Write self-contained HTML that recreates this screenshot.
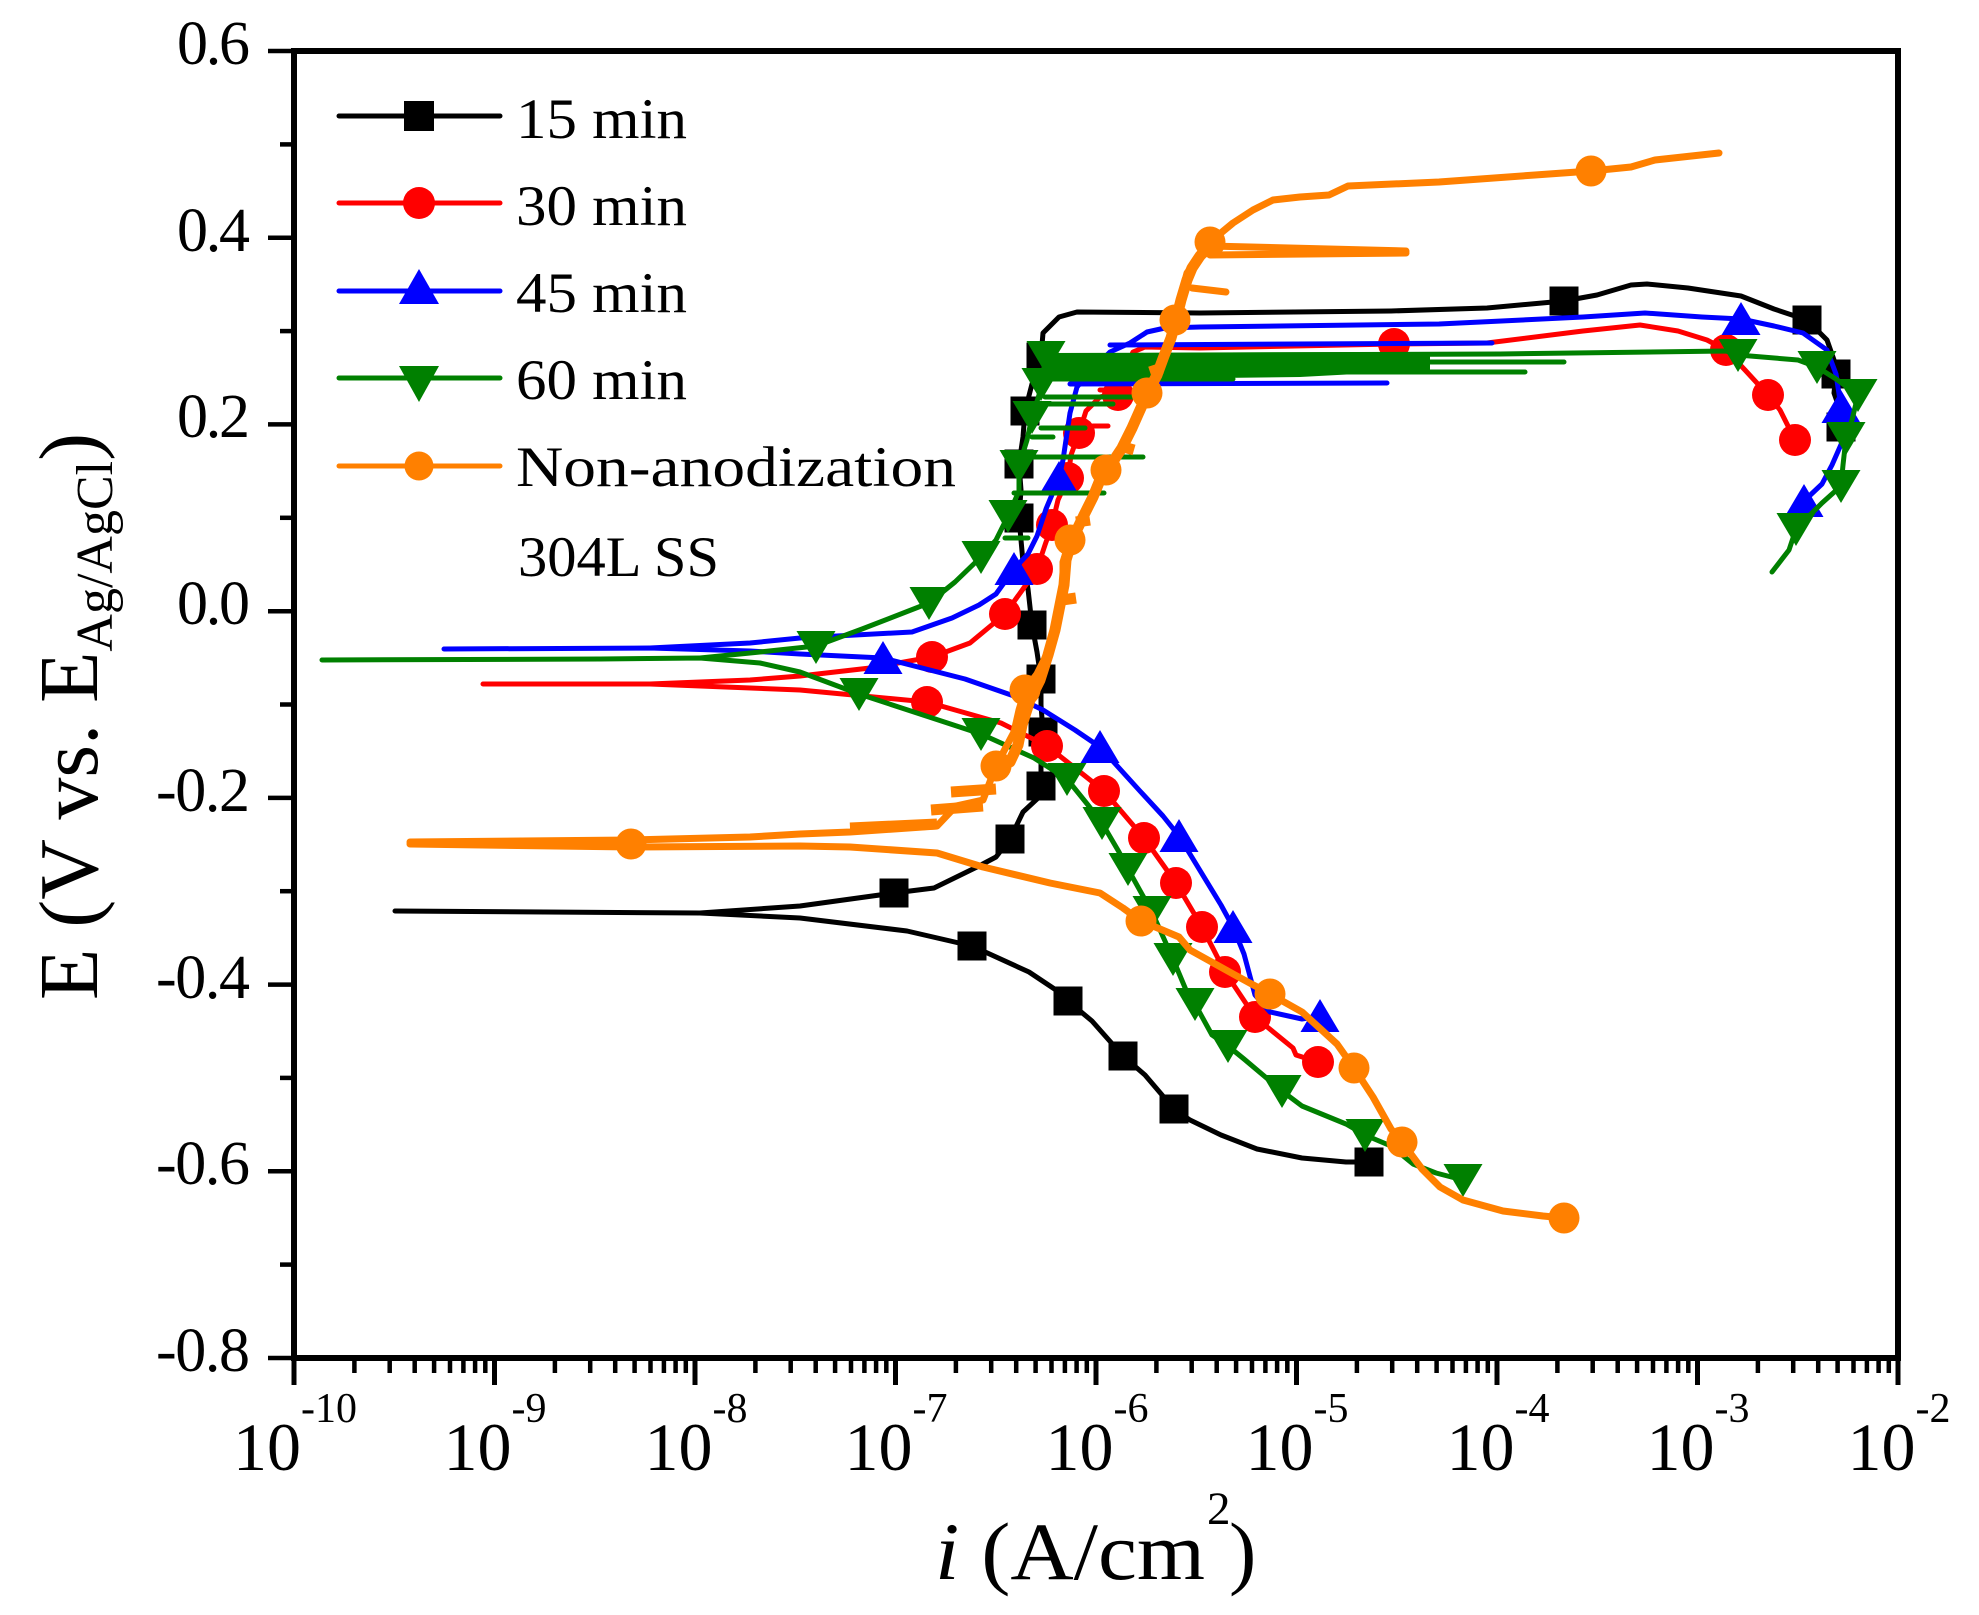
<!DOCTYPE html>
<html><head><meta charset="utf-8"><style>
html,body{margin:0;padding:0;background:#fff;}
svg{display:block;}
text{font-family:"Liberation Serif",serif;fill:#000;}
</style></head><body>
<svg width="1979" height="1615" viewBox="0 0 1979 1615" xmlns="http://www.w3.org/2000/svg">
<rect x="0" y="0" width="1979" height="1615" fill="#fff"/>

<!-- ===== DATA ===== -->
<g fill="none" stroke-width="5" stroke-linejoin="round" stroke-linecap="round">
<g stroke="#000">
<polyline points="395,911 700,913 800,918 907,931 972,946 1029,972 1056,990 1068,1001 1092,1021 1123,1056 1145,1075 1174,1109 1190,1120 1221,1135 1257,1149 1302,1158 1346,1162 1369,1162"/>
<polyline points="700,913 800,906 894,893 934,888 979,866 996,857 1010,839 1023,812 1037,799 1041,786 1041,741 1043,732 1041,705 1041,679 1037,652 1032,625 1028,589 1023,562 1019,518 1021,490 1019,464 1023,437 1025,411 1032,384 1041,357 1043,333 1059,317 1077,312 1200,313 1391,311 1487,308 1564,301 1597,295 1631,285 1647,284 1688,288 1741,296 1774,309 1807,320 1827,340 1834,360 1836,374 1834,393 1840,410 1841,427 1843,445"/>
</g>
</g>
<g fill="#000">
<rect x="1354.5" y="1147.5" width="29" height="29"/><rect x="1159.5" y="1094.5" width="29" height="29"/><rect x="1108.5" y="1041.5" width="29" height="29"/><rect x="1053.5" y="986.5" width="29" height="29"/><rect x="957.5" y="931.5" width="29" height="29"/><rect x="879.5" y="878.5" width="29" height="29"/><rect x="995.5" y="824.5" width="29" height="29"/><rect x="1026.5" y="771.5" width="29" height="29"/><rect x="1028.5" y="717.5" width="29" height="29"/><rect x="1026.5" y="664.5" width="29" height="29"/><rect x="1017.5" y="610.5" width="29" height="29"/><rect x="1004.5" y="503.5" width="29" height="29"/><rect x="1004.5" y="449.5" width="29" height="29"/><rect x="1010.5" y="396.5" width="29" height="29"/><rect x="1026.5" y="342.5" width="29" height="29"/><rect x="1549.5" y="286.5" width="29" height="29"/><rect x="1792.5" y="305.5" width="29" height="29"/><rect x="1821.5" y="359.5" width="29" height="29"/><rect x="1826.5" y="412.5" width="29" height="29"/>
</g>

<!-- red 30 min -->
<g fill="none" stroke="#f00" stroke-width="5" stroke-linejoin="round" stroke-linecap="round">
<polyline points="483,684 650,684 800,690 927,702 1001,723 1047,746 1075,768 1104,791 1144,838 1176,883 1202,927 1225,972 1255,1017 1293,1048 1296,1055 1318,1062"/>
<polyline points="650,684 750,680 800,676 870,668 932,657 970,643 1005,614 1023,589 1037,569 1045,545 1052,525 1058,500 1068,478 1071,455 1079,433 1086,411 1100,397 1118,393 1125,370 1133,352 1145,347 1200,348 1394,344 1487,343 1583,331 1640,325 1678,331 1707,340 1726,350 1745,370 1768,395 1780,410 1795,440"/>
<line x1="1093" y1="426" x2="1108" y2="426"/>
<line x1="1100" y1="390" x2="1128" y2="390"/>
</g>
<g fill="#f00">
<circle cx="927" cy="702" r="16"/><circle cx="1047" cy="746" r="16"/><circle cx="1104" cy="791" r="16"/><circle cx="1144" cy="838" r="16"/><circle cx="1176" cy="883" r="16"/><circle cx="1202" cy="927" r="16"/><circle cx="1225" cy="972" r="16"/><circle cx="1255" cy="1017" r="16"/><circle cx="1318" cy="1062" r="16"/>
<circle cx="932" cy="657" r="16"/><circle cx="1005" cy="614" r="16"/><circle cx="1037" cy="569" r="16"/><circle cx="1052" cy="525" r="16"/><circle cx="1068" cy="478" r="16"/><circle cx="1079" cy="433" r="16"/><circle cx="1118" cy="395" r="16"/><circle cx="1394" cy="344" r="16"/><circle cx="1726" cy="350" r="16"/><circle cx="1768" cy="395" r="16"/><circle cx="1795" cy="440" r="16"/>
</g>

<!-- blue 45 min -->
<g fill="none" stroke="#00f" stroke-width="5" stroke-linejoin="round" stroke-linecap="round">
<polyline points="444,649 650,648 750,651 800,654 883,658 965,679 1014,696 1043,710 1075,730 1100,747 1139,790 1163,816 1179,836 1221,905 1233,927 1244,954 1255,995 1270,1012 1302,1019 1320,1016"/>
<polyline points="650,648 750,643 800,638 912,632 952,618 979,605 996,594 1014,569 1028,554 1037,536 1046,509 1059,478 1063,460 1070,413 1077,387 1090,372 1110,352 1130,343 1147,332 1165,328 1200,327 1439,324 1583,317 1645,313 1702,317 1741,319 1774,326 1803,333 1827,350 1836,374 1841,407 1843,440 1832,465 1822,484 1804,501"/>
<line x1="1070" y1="384" x2="1387" y2="383"/>
<line x1="1110" y1="345" x2="1492" y2="343"/>
</g>
<g fill="#00f">
<polygon points="883,641 863.5,674 902.5,674"/><polygon points="1100,730 1080.5,763 1119.5,763"/><polygon points="1179,819 1159.5,852 1198.5,852"/><polygon points="1233,910 1213.5,943 1252.5,943"/><polygon points="1320,999 1300.5,1032 1339.5,1032"/><polygon points="1014,552 994.5,585 1033.5,585"/><polygon points="1059,461 1039.5,494 1078.5,494"/><polygon points="1741,302 1721.5,335 1760.5,335"/><polygon points="1841,390 1821.5,423 1860.5,423"/><polygon points="1804,484 1784.5,517 1823.5,517"/>
</g>

<!-- green 60 min -->
<g fill="none" stroke="#008000" stroke-width="5" stroke-linejoin="round" stroke-linecap="round">
<polyline points="322,660 600,659 700,658 760,663 800,672 859,694 920,714 981,734 1034,758 1067,779 1088,805 1102,823 1119,852 1128,869 1143,896 1152,912 1173,959 1186,990 1195,1004 1212,1035 1228,1046 1244,1059 1282,1091 1302,1106 1346,1124 1365,1135 1391,1146 1413,1164 1436,1173 1463,1180"/>
<polyline points="700,658 760,652 816,646 862,629 929,603 955,582 981,557 996,540 1008,516 1019,491 1019,466 1027,440 1032,417 1039,395 1041,384 1046,357 1070,356 1200,355 1500,354 1726,351 1738,355 1798,360 1817,367 1836,379 1858,395 1852,420 1846,438 1843,465 1841,486 1822,503 1810,515 1796,529 1789,550 1772,572"/>
<line x1="1046" y1="362" x2="1564" y2="362"/>
<line x1="1046" y1="372" x2="1525" y2="372"/>
<line x1="1046" y1="379" x2="1233" y2="379"/>
<line x1="1045" y1="397" x2="1140" y2="397"/>
<line x1="1045" y1="404" x2="1113" y2="404"/>
<line x1="1041" y1="428" x2="1085" y2="428"/>
<line x1="1032" y1="437" x2="1053" y2="437"/>
<line x1="1023" y1="457" x2="1143" y2="457"/>
<line x1="1014" y1="493" x2="1104" y2="493"/>
<line x1="1005" y1="538" x2="1028" y2="538"/>
</g>
<g fill="#008000">
<polygon points="1046,353 1430,352 1430,370 1300,377 1046,380"/>
<polygon points="796.5,631 835.5,631 816,664"/><polygon points="909.5,587 948.5,587 929,620"/><polygon points="961.5,541 1000.5,541 981,574"/><polygon points="988.5,500 1027.5,500 1008,533"/><polygon points="999.5,450 1038.5,450 1019,483"/><polygon points="1012.5,401 1051.5,401 1032,434"/><polygon points="1021.5,368 1060.5,368 1041,401"/><polygon points="1026.5,341 1065.5,341 1046,374"/>
<polygon points="1718.5,339 1757.5,339 1738,372"/><polygon points="1797.5,351 1836.5,351 1817,384"/><polygon points="1838.5,379 1877.5,379 1858,412"/><polygon points="1826.5,422 1865.5,422 1846,455"/><polygon points="1821.5,470 1860.5,470 1841,503"/><polygon points="1776.5,513 1815.5,513 1796,546"/>
<polygon points="839.5,678 878.5,678 859,711"/><polygon points="961.5,718 1000.5,718 981,751"/><polygon points="1047.5,763 1086.5,763 1067,796"/><polygon points="1082.5,807 1121.5,807 1102,840"/><polygon points="1108.5,853 1147.5,853 1128,886"/><polygon points="1132.5,896 1171.5,896 1152,929"/><polygon points="1153.5,943 1192.5,943 1173,976"/><polygon points="1175.5,988 1214.5,988 1195,1021"/><polygon points="1208.5,1030 1247.5,1030 1228,1063"/><polygon points="1262.5,1075 1301.5,1075 1282,1108"/><polygon points="1345.5,1119 1384.5,1119 1365,1152"/><polygon points="1443.5,1164 1482.5,1164 1463,1197"/>
</g>

<!-- orange non-anodization -->
<g fill="none" stroke="#ff8000" stroke-width="7" stroke-linejoin="round" stroke-linecap="round">
<polyline points="410,842 631,840 750,837 800,834 850,832 937,826 956,806 983,800 996,766 1014,732 1019,710 1025,690 1037,674 1048,652 1054,629 1059,607 1063,589 1063,562 1070,540 1081,518 1090,500 1097,482 1106,470 1120,450 1130,430 1140,410 1147,393 1155,378 1163,360 1170,340 1175,320 1180,300 1187,273 1197,260 1210,242 1233,223 1253,210 1273,200 1300,197 1329,195 1348,186 1439,182 1535,175 1591,171 1631,167 1655,160 1719,153"/>
<polyline points="410,844 631,847 800,846 850,847 937,853 983,867 1050,883 1100,893 1123,908 1141,921 1179,937 1190,950 1235,975 1270,994 1302,1012 1337,1044 1354,1068 1373,1097 1391,1129 1402,1142 1422,1169 1440,1187 1463,1200 1503,1211 1543,1216 1564,1218"/>
<line x1="1210" y1="246" x2="1406" y2="251"/>
<line x1="1210" y1="255" x2="1406" y2="253"/>
<line x1="1192" y1="288" x2="1226" y2="292"/>
</g>
<g fill="none" stroke="#ff8000" stroke-width="11" stroke-linejoin="round" stroke-linecap="butt">
<polyline points="850,828 937,824"/>
<polyline points="931,810 983,806"/>
<polyline points="951,792 996,789"/>
<polyline points="985,772 1010,762 1018,745 1022,725 1030,700 1040,680 1048,655 1055,630 1060,605 1064,585 1066,560 1072,540 1084,515 1093,497 1100,480 1108,469 1122,448 1132,428 1140,410 1148,392 1157,375 1164,356 1171,338 1176,320 1181,300 1187,280 1192,268 1200,256 1212,243"/>
<line x1="1090" y1="520" x2="1076" y2="522"/>
<line x1="1062" y1="600" x2="1076" y2="598"/>
<line x1="1120" y1="446" x2="1134" y2="450"/>
<line x1="1150" y1="372" x2="1162" y2="368"/>
</g>
<g fill="#ff8000">
<circle cx="631" cy="844" r="15.5"/><circle cx="996" cy="766" r="15.5"/><circle cx="1025" cy="690" r="15.5"/><circle cx="1070" cy="540" r="15.5"/><circle cx="1106" cy="470" r="15.5"/><circle cx="1147" cy="393" r="15.5"/><circle cx="1175" cy="320" r="15.5"/><circle cx="1210" cy="242" r="15.5"/><circle cx="1591" cy="171" r="15.5"/><circle cx="1141" cy="921" r="15.5"/><circle cx="1270" cy="994" r="15.5"/><circle cx="1354" cy="1068" r="15.5"/><circle cx="1402" cy="1142" r="15.5"/><circle cx="1564" cy="1218" r="15.5"/>
</g>

<!-- ===== AXES ===== -->
<g stroke="#000" fill="none" stroke-linecap="square">
<rect x="294" y="51" width="1604" height="1307" stroke-width="6"/>
</g>
<g stroke="#000" stroke-width="4.5">
<line x1="268" y1="51" x2="294" y2="51"/><line x1="268" y1="237.7" x2="294" y2="237.7"/><line x1="268" y1="424.4" x2="294" y2="424.4"/><line x1="268" y1="611.2" x2="294" y2="611.2"/><line x1="268" y1="797.9" x2="294" y2="797.9"/><line x1="268" y1="984.6" x2="294" y2="984.6"/><line x1="268" y1="1171.3" x2="294" y2="1171.3"/><line x1="268" y1="1358" x2="294" y2="1358"/>
<line x1="280" y1="144.4" x2="294" y2="144.4"/><line x1="280" y1="331.1" x2="294" y2="331.1"/><line x1="280" y1="517.8" x2="294" y2="517.8"/><line x1="280" y1="704.5" x2="294" y2="704.5"/><line x1="280" y1="891.2" x2="294" y2="891.2"/><line x1="280" y1="1077.9" x2="294" y2="1077.9"/><line x1="280" y1="1264.6" x2="294" y2="1264.6"/>
</g>
<g stroke="#000" stroke-width="5">
<line x1="294" y1="1358" x2="294" y2="1385"/><line x1="494.5" y1="1358" x2="494.5" y2="1385"/><line x1="695" y1="1358" x2="695" y2="1385"/><line x1="895.5" y1="1358" x2="895.5" y2="1385"/><line x1="1096" y1="1358" x2="1096" y2="1385"/><line x1="1296.5" y1="1358" x2="1296.5" y2="1385"/><line x1="1497" y1="1358" x2="1497" y2="1385"/><line x1="1697.5" y1="1358" x2="1697.5" y2="1385"/><line x1="1898" y1="1358" x2="1898" y2="1385"/>
</g>
<g stroke="#000" stroke-width="4.5">
<path d="M354.4 1358v15M389.7 1358v15M414.7 1358v15M434.1 1358v15M450 1358v15M463.4 1358v15M475.1 1358v15M485.3 1358v15
M554.9 1358v15M590.2 1358v15M615.2 1358v15M634.6 1358v15M650.5 1358v15M663.9 1358v15M675.6 1358v15M685.8 1358v15
M755.4 1358v15M790.7 1358v15M815.7 1358v15M835.1 1358v15M851 1358v15M864.4 1358v15M876.1 1358v15M886.3 1358v15
M955.9 1358v15M991.2 1358v15M1016.2 1358v15M1035.6 1358v15M1051.5 1358v15M1064.9 1358v15M1076.6 1358v15M1086.8 1358v15
M1156.4 1358v15M1191.7 1358v15M1216.7 1358v15M1236.1 1358v15M1252 1358v15M1265.4 1358v15M1277.1 1358v15M1287.3 1358v15
M1356.9 1358v15M1392.2 1358v15M1417.2 1358v15M1436.6 1358v15M1452.5 1358v15M1465.9 1358v15M1477.6 1358v15M1487.8 1358v15
M1557.4 1358v15M1592.7 1358v15M1617.7 1358v15M1637.1 1358v15M1653 1358v15M1666.4 1358v15M1678.1 1358v15M1688.3 1358v15
M1757.9 1358v15M1793.2 1358v15M1818.2 1358v15M1837.6 1358v15M1853.5 1358v15M1866.9 1358v15M1878.6 1358v15M1888.8 1358v15"/>
</g>

<!-- y tick labels -->
<g font-size="62" text-anchor="end">
<text x="250" y="64" textLength="73">0.6</text>
<text x="250" y="251" textLength="73">0.4</text>
<text x="250" y="437" textLength="73">0.2</text>
<text x="250" y="624" textLength="73">0.0</text>
<text x="250" y="811" textLength="94">-0.2</text>
<text x="250" y="998" textLength="94">-0.4</text>
<text x="250" y="1184" textLength="94">-0.6</text>
<text x="250" y="1371" textLength="94">-0.8</text>
</g>

<!-- x tick labels -->
<g font-size="68" text-anchor="middle">
<text x="295" y="1470">10<tspan font-size="42" dy="-48">-10</tspan></text>
<text x="495" y="1470">10<tspan font-size="42" dy="-48">-9</tspan></text>
<text x="696" y="1470">10<tspan font-size="42" dy="-48">-8</tspan></text>
<text x="896" y="1470">10<tspan font-size="42" dy="-48">-7</tspan></text>
<text x="1097" y="1470">10<tspan font-size="42" dy="-48">-6</tspan></text>
<text x="1297" y="1470">10<tspan font-size="42" dy="-48">-5</tspan></text>
<text x="1498" y="1470">10<tspan font-size="42" dy="-48">-4</tspan></text>
<text x="1698" y="1470">10<tspan font-size="42" dy="-48">-3</tspan></text>
<text x="1899" y="1470">10<tspan font-size="42" dy="-48">-2</tspan></text>
</g>

<!-- axis titles -->
<text font-size="82" x="935" y="1579" textLength="270" lengthAdjust="spacingAndGlyphs"><tspan font-style="italic">i</tspan> (A/cm</text>
<text font-size="47" x="1207" y="1524">2</text>
<text font-size="82" x="1229" y="1579">)</text>

<text font-size="84" transform="translate(97,1000) rotate(-90)">E (V vs. E<tspan font-size="52" dy="15">Ag/AgCl</tspan><tspan dy="-15">)</tspan></text>

<!-- legend -->
<g stroke-width="5" stroke-linecap="round">
<line x1="339" y1="116" x2="500" y2="116" stroke="#000"/>
<line x1="339" y1="203" x2="500" y2="203" stroke="#f00"/>
<line x1="339" y1="291" x2="500" y2="291" stroke="#00f"/>
<line x1="339" y1="378" x2="500" y2="378" stroke="#008000"/>
<line x1="339" y1="466" x2="500" y2="466" stroke="#ff8000"/>
</g>
<rect x="404" y="101" width="30" height="30" fill="#000"/>
<circle cx="419" cy="203" r="16" fill="#f00"/>
<polygon points="419,269 399,304 439,304" fill="#00f"/>
<polygon points="399,366 439,366 419,402" fill="#008000"/>
<circle cx="419" cy="466" r="14.5" fill="#ff8000"/>
<g font-size="57">
<text x="516" y="138" textLength="171" lengthAdjust="spacingAndGlyphs">15 min</text>
<text x="516" y="225" textLength="171" lengthAdjust="spacingAndGlyphs">30 min</text>
<text x="516" y="312" textLength="171" lengthAdjust="spacingAndGlyphs">45 min</text>
<text x="516" y="399" textLength="171" lengthAdjust="spacingAndGlyphs">60 min</text>
<text x="516" y="486" textLength="440" lengthAdjust="spacingAndGlyphs">Non-anodization</text>
<text x="518" y="576" textLength="201" lengthAdjust="spacingAndGlyphs">304L SS</text>
</g>
</svg>
</body></html>
